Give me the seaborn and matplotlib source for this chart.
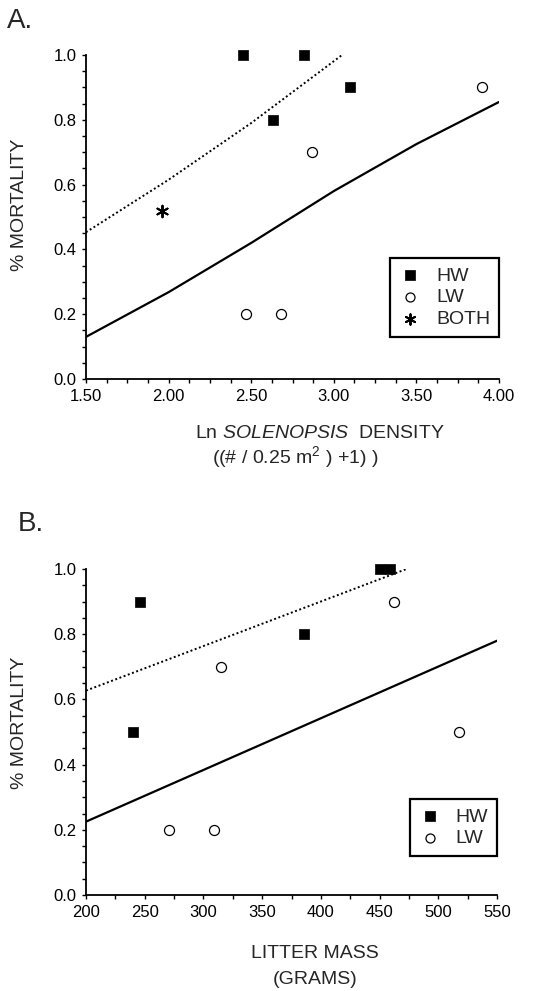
import matplotlib
matplotlib.use("Agg")
import matplotlib.pyplot as plt
import seaborn as sns
import pandas as pd
from matplotlib.ticker import MultipleLocator, FormatStrFormatter

# ---------------- data ----------------
# Panel A: Ln Solenopsis density vs % mortality
a_hw_x = [2.45, 2.82, 2.63, 3.10]
a_hw_y = [1.0, 1.0, 0.8, 0.9]
a_lw_x = [3.90, 2.87, 2.47, 2.68]
a_lw_y = [0.9, 0.7, 0.2, 0.2]
a_both_x = [1.96]
a_both_y = [0.52]
a_fit_solid_x = [1.5, 2.0, 2.5, 3.0, 3.5, 4.0]
a_fit_solid_y = [0.13, 0.268, 0.42, 0.58, 0.725, 0.855]
a_fit_dot_x = [1.5, 2.0, 2.5, 3.05]
a_fit_dot_y = [0.453, 0.615, 0.79, 1.0]

# Panel B: litter mass vs % mortality
b_hw_x = [240, 246, 386, 450, 459]
b_hw_y = [0.5, 0.9, 0.8, 1.0, 1.0]
b_lw_x = [271, 309, 315, 462, 518]
b_lw_y = [0.2, 0.2, 0.7, 0.9, 0.5]
b_fit_solid_x = [200, 550]
b_fit_solid_y = [0.225, 0.78]
b_fit_dot_x = [200, 473]
b_fit_dot_y = [0.627, 1.0]

# ---------------- style ----------------
sns.set_style("ticks")
plt.rcParams["font.family"] = ["Liberation Sans", "DejaVu Sans"]
plt.rcParams["mathtext.fontset"] = "custom"
plt.rcParams["mathtext.rm"] = "Liberation Sans"
plt.rcParams["mathtext.it"] = "Liberation Sans:italic"
plt.rcParams["mathtext.bf"] = "Liberation Sans:bold"

W, H = 549, 991
fig = plt.figure(figsize=(W / 100, H / 100), dpi=100)
fig.patch.set_facecolor("white")


def px_axes(left, top, right, bottom):
    return fig.add_axes([left / W, 1 - bottom / H, (right - left) / W, (bottom - top) / H])


axA = px_axes(86, 55, 499, 379)
axB = px_axes(86, 569, 497, 895)

sq_kw = dict(marker="s", s=62, color="black", edgecolor="black", linewidth=0.5, clip_on=False, zorder=4)
ci_kw = dict(marker="o", s=52, facecolor="white", edgecolor="black", linewidth=0.9, clip_on=False, zorder=4)
ast_kw = dict(marker=(6, 2, 0), s=70, color="black", linewidth=1.4, clip_on=False, zorder=4)
dot_ls = (0, (1.0, 1.3))


def style_axis(ax, xlim, xmaj, xmin, xfmt):
    ax.set_xlim(*xlim)
    ax.set_ylim(0, 1.0)
    ax.xaxis.set_major_locator(MultipleLocator(xmaj))
    ax.xaxis.set_minor_locator(MultipleLocator(xmin))
    ax.xaxis.set_major_formatter(FormatStrFormatter(xfmt))
    ax.yaxis.set_major_locator(MultipleLocator(0.2))
    ax.yaxis.set_minor_locator(MultipleLocator(0.05))
    ax.yaxis.set_major_formatter(FormatStrFormatter("%.1f"))
    for s in ["top", "right"]:
        ax.spines[s].set_visible(False)
    for s in ["left", "bottom"]:
        ax.spines[s].set_linewidth(1.3)
        ax.spines[s].set_color("black")
    ax.tick_params(which="both", direction="out", length=3, width=1.0, color="black")
    ax.tick_params(which="major", labelsize=12, pad=4, labelcolor="black")
    ax.set_xlabel("")
    ax.set_ylabel("")
    ax.set_facecolor("white")


# ---------------- Panel A ----------------
sns.lineplot(x=a_fit_solid_x, y=a_fit_solid_y, ax=axA, color="black", linewidth=1.6, zorder=3)
sns.lineplot(x=a_fit_dot_x, y=a_fit_dot_y, ax=axA, color="black", linewidth=1.4, linestyle=dot_ls, zorder=3)
sns.scatterplot(x=a_hw_x, y=a_hw_y, ax=axA, label="HW", **sq_kw)
sns.scatterplot(x=a_lw_x, y=a_lw_y, ax=axA, label="LW", **ci_kw)
sns.scatterplot(x=a_both_x, y=a_both_y, ax=axA, label="BOTH", **ast_kw)
style_axis(axA, (1.5, 4.0), 0.5, 0.125, "%.2f")

# ---------------- Panel B ----------------
sns.lineplot(x=b_fit_solid_x, y=b_fit_solid_y, ax=axB, color="black", linewidth=1.6, zorder=3)
sns.lineplot(x=b_fit_dot_x, y=b_fit_dot_y, ax=axB, color="black", linewidth=1.4, linestyle=dot_ls, zorder=3)
sns.scatterplot(x=b_hw_x, y=b_hw_y, ax=axB, label="HW", **sq_kw)
sns.scatterplot(x=b_lw_x, y=b_lw_y, ax=axB, label="LW", **ci_kw)
style_axis(axB, (200, 550), 50, 25, "%d")

# ---------------- legends ----------------
for ax, anchor in [(axA, (1.0, 0.373)), (axB, (1.0, 0.294))]:
    leg = ax.legend(loc="upper right", bbox_to_anchor=anchor, frameon=True, fancybox=False,
                    fontsize=14, handletextpad=0.8, labelspacing=0.22, borderpad=0.45,
                    handlelength=1.1, borderaxespad=0.0, markerscale=0.9)
    fr = leg.get_frame()
    fr.set_edgecolor("black")
    fr.set_linewidth(1.6)
    fr.set_alpha(1)

# ---------------- texts ----------------
fig.text(7 / W, 1 - 21 / H, "A.", fontsize=20, ha="left", va="center")
fig.text(18 / W, 1 - 524 / H, "B.", fontsize=20, ha="left", va="center")

fig.text(20 / W, 1 - 205 / H, "% MORTALITY", rotation=90, fontsize=14, ha="center", va="center")
fig.text(20 / W, 1 - 723 / H, "% MORTALITY", rotation=90, fontsize=14, ha="center", va="center")

fig.text(320 / W, 1 - 433 / H, r"Ln $\mathit{SOLENOPSIS}$  DENSITY", fontsize=14, ha="center", va="center")
fig.text(295 / W, 1 - 457 / H, r"((# / 0.25 m$^{2}$ ) +1) )", fontsize=14, ha="center", va="center")

fig.text(315 / W, 1 - 953 / H, "LITTER MASS", fontsize=14, ha="center", va="center")
fig.text(315 / W, 1 - 980 / H, "(GRAMS)", fontsize=14, ha="center", va="center")

fig.savefig("out.png", dpi=100, facecolor="white")
